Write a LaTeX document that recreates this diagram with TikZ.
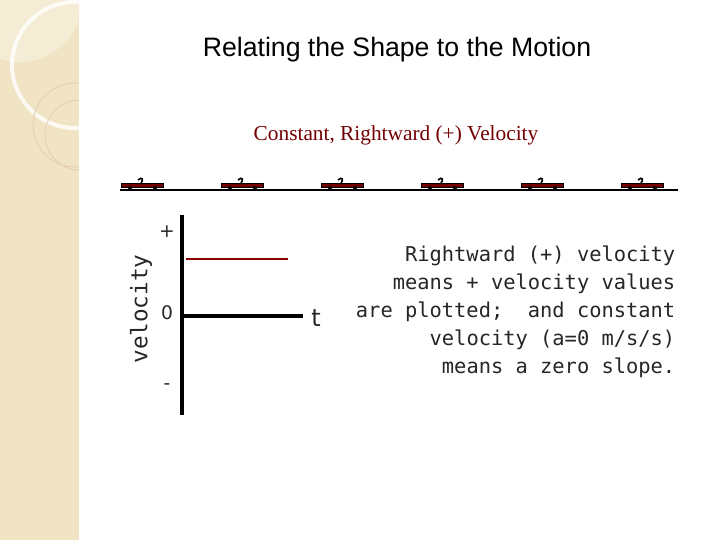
\documentclass[tikz,border=0pt]{standalone}
\usepackage{fontspec}
\setmainfont{Liberation Sans}
\newfontfamily\serifb{Liberation Serif}
\newfontfamily\dv{DejaVu Sans}
\newfontfamily\dvm{DejaVu Sans Mono}
\definecolor{strip}{RGB}{240,228,196}
\begin{document}
\begin{tikzpicture}[x=0.75pt,y=-0.75pt,
  cart/.style={fill=red!45!black,draw=black,line width=0.4pt},
  lbl/.style={font=\dv\fontsize{14}{16}\selectfont,text=black!85}]
\useasboundingbox (0,0) rectangle (720,540);
\fill[white] (0,0) rectangle (720,540);
% left strip
\fill[strip] (0,0) rectangle (79,540);
\begin{scope}
\clip (0,0) rectangle (79,540);
\fill[white,opacity=0.3] (20,0) circle (62);
\draw[white,line width=3pt,opacity=0.8] (75,65) circle (63);
\draw[brown!40,line width=0.6pt] (75,125) circle (42);
\draw[brown!40,line width=0.6pt] (80,135) circle (35);
\end{scope}
% title
\node (title) at (397,50) {\fontsize{20}{24}\selectfont Relating the Shape to the Motion};
\node (sub) at (396,135) {\serifb\fontsize{16}{18}\selectfont\color{red!45!black}Constant, Rightward (+) Velocity};
% track
\draw[line width=2pt] (120,190) coordinate (ta) -- (678,190) coordinate (tb);
\foreach \i in {0,...,5}{
  \begin{scope}[xshift=\i*75pt]
  \fill[cart] (121,183) rectangle (163,187);
  \fill (130,188) circle (2);
  \fill (155,188) circle (2);
  \draw[line width=1.2pt] (138,180) .. controls (142,176) and (144,180) .. (141,183);
  \end{scope}
}
% axes
\draw[line width=3pt] (182,215) coordinate (ya) -- (182,415) coordinate (yb);
\draw[line width=3pt] (182,316) coordinate (xa) -- (303,316) coordinate (xb);
\draw[line width=2pt,red!55!black] (186,259) coordinate (ra) -- (288,259) coordinate (rb);
\node[lbl] (plus) at (167,232) {+};
\node[lbl] (zero) at (167,313) {0};
\node[lbl] (minus) at (167,387) {-};
\node[lbl,font=\dv\fontsize{18}{20}\selectfont] (t) at (316,318) {t};
\node[lbl,rotate=90,font=\dvm\fontsize{17}{20}\selectfont] (vel) at (141,309) {velocity};
\node[lbl,align=right,anchor=east,font=\dvm\fontsize{15.3}{21}\selectfont] (txt) at (680,312)
 {Rightward (+) velocity\\means + velocity values\\are plotted;~ and constant\\velocity (a=0 m/s/s)\\means a zero slope.};
\end{tikzpicture}
\end{document}
